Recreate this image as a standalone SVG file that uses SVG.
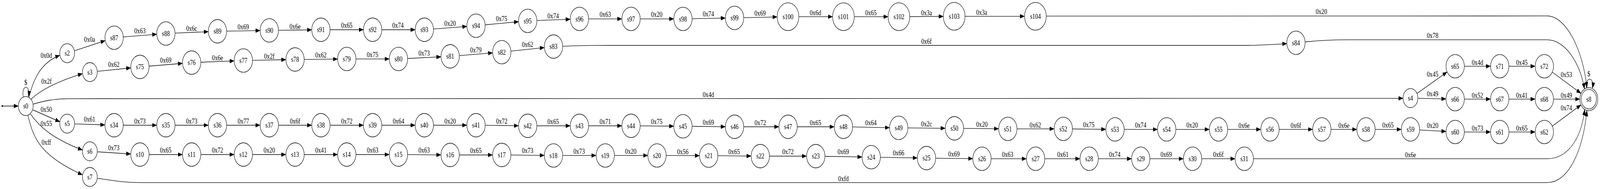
<svg xmlns="http://www.w3.org/2000/svg" width="5240" height="483" viewBox="0 0 5240 483" preserveAspectRatio="none">
<style>
svg{width:100vw;height:100vh}
.n{fill:none;stroke:#000;stroke-width:1.33}
.t{font-family:"Liberation Serif","Times New Roman",serif;font-size:18.67px;text-anchor:middle;fill:#000;opacity:0.999}
.e{fill:none;stroke:#000;stroke-width:1.33;marker-end:url(#ah)}
</style>
<defs>
<marker id="ah" markerUnits="userSpaceOnUse" markerWidth="15" markerHeight="11" viewBox="0 0 14 10" refX="13.5" refY="5" orient="auto"><path d="M0.5,0.3 L13.5,5 L0.5,9.7 z" fill="#000" stroke="#000" stroke-width="0.8"/></marker>
</defs>
<rect x="0" y="0" width="5240" height="483" fill="#fff"/>
<g id="connectors">
<g><path class="e" d="M7.3,271 L59.8,271"/></g>
<g><path class="e" d="M76,247 C70,215 100,215 93.3,246.5"/><text class="t" x="84.3" y="217">$</text></g>
<g><path class="e" d="M95,248.5 C110,200 135,160 195.5,141.5"/><text class="t" x="151.7" y="148">0x0d</text></g>
<g><path class="e" d="M102,253.3 C130,232 180,210 269.8,188.3"/><text class="t" x="152.3" y="214">0x2f</text></g>
<g><path class="e" d="M109,266 C140,259 175,252.3 220,252.3 L4594.8,251.3"/><text class="t" x="2320" y="248">0x4d</text></g>
<g><path class="e" d="M108.3,281 L195.8,311"/><text class="t" x="151.7" y="286.3">0x50</text></g>
<g><path class="e" d="M100,291.5 C130,325 175,355 269.8,383.3"/><text class="t" x="151.7" y="322.3">0x55</text></g>
<g><path class="e" d="M91.7,295 C110,360 140,400 269.8,446.7"/><text class="t" x="151.7" y="369.6">0xff</text></g>
<g><path class="e" d="M244.2,129.7 L344.2,103.9"/><text class="t" x="293.3" y="107">0x0a</text></g>
<g><path class="e" d="M404.1,94.4 L512.9,87.6"/><text class="t" x="458.3" y="85.3">0x63</text></g>
<g><path class="e" d="M573.8,84.7 L681.8,81"/><text class="t" x="627.7" y="78.6">0x6c</text></g>
<g><path class="e" d="M742.8,79.6 L851.5,78.1"/><text class="t" x="796.7" y="74.6">0x69</text></g>
<g><path class="e" d="M912.5,77.4 L1020.5,76.3"/><text class="t" x="966.3" y="74">0x6e</text></g>
<g><path class="e" d="M1081.5,76 L1189.8,76"/><text class="t" x="1135.7" y="71.3">0x65</text></g>
<g><path class="e" d="M1250.8,76 L1359.2,76"/><text class="t" x="1303.3" y="71.3">0x74</text></g>
<g><path class="e" d="M1420.1,74.1 L1528.6,67.6"/><text class="t" x="1474" y="65.6">0x20</text></g>
<g><path class="e" d="M1589.4,63.5 L1697.9,55.5"/><text class="t" x="1642.7" y="53.6">0x75</text></g>
<g><path class="e" d="M1758.8,52.4 L1867.2,49.2"/><text class="t" x="1811.7" y="46.6">0x74</text></g>
<g><path class="e" d="M1928.2,48.3 L2036.2,48.3"/><text class="t" x="1982.3" y="43">0x63</text></g>
<g><path class="e" d="M2097.2,48.3 L2206.2,48.3"/><text class="t" x="2150.7" y="43">0x20</text></g>
<g><path class="e" d="M2267.2,47.8 L2375.2,46.2"/><text class="t" x="2320" y="42.3">0x74</text></g>
<g><path class="e" d="M2436.2,45.2 L2544.7,43.3"/><text class="t" x="2489.3" y="39.6">0x69</text></g>
<g><path class="e" d="M2616.7,42.7 L2726.3,42.7"/><text class="t" x="2670.7" y="38.6">0x6d</text></g>
<g><path class="e" d="M2798.3,42.7 L2908,42.7"/><text class="t" x="2852.3" y="38.6">0x65</text></g>
<g><path class="e" d="M2980,42.5 L3089,41.9"/><text class="t" x="3034.3" y="38.6">0x3a</text></g>
<g><path class="e" d="M3161,41.7 L3355,41.7"/><text class="t" x="3215" y="38">0x3a</text></g>
<g><path class="e" d="M3427,41.2 L5066.7,40.7 C5130,40.7 5185,130 5197,224"/><text class="t" x="4327.7" y="35.6">0x20</text></g>
<g><path class="e" d="M319.2,182.3 L427.9,173.5"/><text class="t" x="372.7" y="171.3">0x62</text></g>
<g><path class="e" d="M488.7,169 L597.3,162"/><text class="t" x="542.7" y="159.6">0x69</text></g>
<g><path class="e" d="M658.2,159 L766.5,155.7"/><text class="t" x="712.3" y="153.6">0x6e</text></g>
<g><path class="e" d="M827.5,154.2 L935.8,152.5"/><text class="t" x="882" y="149.6">0x2f</text></g>
<g><path class="e" d="M996.8,151.8 L1105.2,150.9"/><text class="t" x="1051" y="147.3">0x62</text></g>
<g><path class="e" d="M1166.2,150.7 L1274.5,150.7"/><text class="t" x="1220" y="146.3">0x75</text></g>
<g><path class="e" d="M1335.5,149.5 L1443.8,145.2"/><text class="t" x="1389" y="142.3">0x73</text></g>
<g><path class="e" d="M1504.7,142.1 L1612.9,135.2"/><text class="t" x="1558.3" y="133.6">0x79</text></g>
<g><path class="e" d="M1673.7,130.7 L1782.3,121.6"/><text class="t" x="1727.7" y="119.6">0x62</text></g>
<g><path class="e" d="M1843.2,118.3 C1900,116.3 1950,116 2000,116 L4076,116 C4120,116 4170,113.5 4213.9,111.5"/><text class="t" x="3034.3" y="112.3">0x6f</text></g>
<g><path class="e" d="M4274.8,107 C4320,103.5 4360,101.7 4420,101.7 L5066.7,101.7 C5125,101.7 5175,160 5189,227"/><text class="t" x="4691.7" y="97.3">0x78</text></g>
<g><path class="e" d="M4641.2,238.6 L4739,184.1"/><text class="t" x="4691.7" y="195.6">0x45</text></g>
<g><path class="e" d="M4644.3,251.1 L4735.2,252.8"/><text class="t" x="4691.7" y="246.3">0x49</text></g>
<g><path class="e" d="M4796.2,169.3 L4881.2,169.3"/><text class="t" x="4838.7" y="165.6">0x4d</text></g>
<g><path class="e" d="M4942.2,169.3 L5027.2,169.3"/><text class="t" x="4984" y="165.6">0x45</text></g>
<g><path class="e" d="M5084.1,184.5 L5177.3,238.3"/><text class="t" x="5130" y="197.3">0x53</text></g>
<g><path class="e" d="M4796.2,253.3 L4881.2,253.3"/><text class="t" x="4838.7" y="249.6">0x52</text></g>
<g><path class="e" d="M4942.2,253.3 L5027.2,253.3"/><text class="t" x="4984" y="249.6">0x41</text></g>
<g><path class="e" d="M5088.2,253.3 L5173.3,253.3"/><text class="t" x="5130" y="250">0x49</text></g>
<g><path class="e" d="M5084.1,322.1 L5177.3,268.3"/><text class="t" x="5130" y="281.6">0x74</text></g>
<g><path class="e" d="M5196,224.5 C5190,196 5222,194 5215.5,225"/><text class="t" x="5203.3" y="194.6">$</text></g>
<g><path class="e" d="M245,316.6 L343.2,319.2"/><text class="t" x="293.3" y="311.3">0x61</text></g>
<g><path class="e" d="M404.2,320 L512.8,320"/><text class="t" x="458.3" y="315.6">0x73</text></g>
<g><path class="e" d="M573.8,320 L681.8,320"/><text class="t" x="627.7" y="315.6">0x73</text></g>
<g><path class="e" d="M742.8,320 L851.5,320"/><text class="t" x="797" y="315.6">0x77</text></g>
<g><path class="e" d="M912.5,320 L1020.5,320"/><text class="t" x="966.3" y="315.6">0x6f</text></g>
<g><path class="e" d="M1081.5,320 L1189.8,320"/><text class="t" x="1135.7" y="315.6">0x72</text></g>
<g><path class="e" d="M1250.8,320 L1359.2,320"/><text class="t" x="1305" y="315.6">0x64</text></g>
<g><path class="e" d="M1420.2,320 L1528.5,320"/><text class="t" x="1474.3" y="315.6">0x20</text></g>
<g><path class="e" d="M1589.5,320.1 L1697.8,321.4"/><text class="t" x="1643.3" y="315.6">0x72</text></g>
<g><path class="e" d="M1758.8,321.5 L1867.2,321.5"/><text class="t" x="1811.7" y="317.3">0x65</text></g>
<g><path class="e" d="M1928.2,321.5 L2036.2,321.5"/><text class="t" x="1982.3" y="317.3">0x71</text></g>
<g><path class="e" d="M2097.2,321.7 L2206.2,322.5"/><text class="t" x="2150.7" y="317.3">0x75</text></g>
<g><path class="e" d="M2267.2,322.9 L2375.2,323.8"/><text class="t" x="2320" y="318.6">0x69</text></g>
<g><path class="e" d="M2436.2,324 L2550.5,324"/><text class="t" x="2490" y="319.6">0x72</text></g>
<g><path class="e" d="M2611.5,324 L2731.8,324"/><text class="t" x="2670.7" y="319.6">0x65</text></g>
<g><path class="e" d="M2792.8,324.4 L2912.8,326.3"/><text class="t" x="2852.3" y="319.6">0x64</text></g>
<g><path class="e" d="M2973.8,326.9 L3095.2,327.8"/><text class="t" x="3034.3" y="323">0x2c</text></g>
<g><path class="e" d="M3156.2,328.2 L3270.2,329.1"/><text class="t" x="3215.7" y="323.6">0x20</text></g>
<g><path class="e" d="M3331.2,329.3 L3451.8,329.3"/><text class="t" x="3390.7" y="325.6">0x62</text></g>
<g><path class="e" d="M3512.8,329.5 L3621.2,330.5"/><text class="t" x="3565.7" y="325.3">0x75</text></g>
<g><path class="e" d="M3682.2,330.7 L3790.5,330.7"/><text class="t" x="3735.7" y="326.3">0x74</text></g>
<g><path class="e" d="M3851.5,330.7 L3960.2,330.7"/><text class="t" x="3904.3" y="326.3">0x20</text></g>
<g><path class="e" d="M4021.2,330.7 L4128.8,330.7"/><text class="t" x="4074.3" y="327">0x6e</text></g>
<g><path class="e" d="M4189.8,330.7 L4298.5,330.7"/><text class="t" x="4244" y="327">0x6f</text></g>
<g><path class="e" d="M4359.5,330.7 L4443.2,330.7"/><text class="t" x="4401.3" y="327">0x6e</text></g>
<g><path class="e" d="M4504.2,330.7 L4588.8,330.7"/><text class="t" x="4545.7" y="326.3">0x65</text></g>
<g><path class="e" d="M4649.8,332.1 L4735.2,335.9"/><text class="t" x="4691.7" y="327.3">0x20</text></g>
<g><path class="e" d="M4796.2,337.3 L4881.2,337.3"/><text class="t" x="4838.7" y="333.6">0x73</text></g>
<g><path class="e" d="M4942.2,337.3 L5027.2,337.3"/><text class="t" x="4984" y="333.6">0x65</text></g>
<g><path class="e" d="M319.3,388 L427.8,393.5"/><text class="t" x="372.7" y="383.6">0x73</text></g>
<g><path class="e" d="M488.8,395 L597.2,395"/><text class="t" x="542.7" y="390.3">0x65</text></g>
<g><path class="e" d="M658.2,395 L766.5,395"/><text class="t" x="712.3" y="390.3">0x72</text></g>
<g><path class="e" d="M827.5,395 L935.8,395"/><text class="t" x="882" y="390.3">0x20</text></g>
<g><path class="e" d="M996.8,395 L1105.2,395"/><text class="t" x="1051" y="390.3">0x41</text></g>
<g><path class="e" d="M1166.2,395 L1274.5,395"/><text class="t" x="1220.3" y="390.3">0x63</text></g>
<g><path class="e" d="M1335.5,395.2 L1443.8,395.8"/><text class="t" x="1389" y="390.3">0x63</text></g>
<g><path class="e" d="M1504.8,396 L1612.8,396"/><text class="t" x="1558.3" y="391.3">0x65</text></g>
<g><path class="e" d="M1673.8,396.2 L1782.2,397.1"/><text class="t" x="1727.7" y="391.3">0x73</text></g>
<g><path class="e" d="M1843.2,397.3 L1951.8,397.3"/><text class="t" x="1896.7" y="393">0x73</text></g>
<g><path class="e" d="M2012.8,397.3 L2121.2,397.3"/><text class="t" x="2065.7" y="393">0x20</text></g>
<g><path class="e" d="M2182.2,397.3 L2290.5,397.7"/><text class="t" x="2236" y="393.6">0x56</text></g>
<g><path class="e" d="M2351.5,397.9 L2459.5,398.8"/><text class="t" x="2404.3" y="393.6">0x65</text></g>
<g><path class="e" d="M2520.5,399 L2641.2,399"/><text class="t" x="2580.7" y="394">0x72</text></g>
<g><path class="e" d="M2702.2,399.5 L2822.8,401.2"/><text class="t" x="2761.7" y="394">0x69</text></g>
<g><path class="e" d="M2883.8,402.1 L3003.8,403.6"/><text class="t" x="2942.7" y="397">0x66</text></g>
<g><path class="e" d="M3064.8,404.3 L3185.5,405.4"/><text class="t" x="3124.3" y="399.6">0x69</text></g>
<g><path class="e" d="M3246.5,405.7 L3361.2,405.7"/><text class="t" x="3300" y="401.3">0x63</text></g>
<g><path class="e" d="M3422.2,405.7 L3536.5,405.7"/><text class="t" x="3481" y="401.3">0x61</text></g>
<g><path class="e" d="M3597.5,405.7 L3705.5,405.7"/><text class="t" x="3650.7" y="401.3">0x74</text></g>
<g><path class="e" d="M3766.5,405.7 L3875.2,405.7"/><text class="t" x="3819.3" y="401.3">0x69</text></g>
<g><path class="e" d="M3936.2,405.7 L4044.5,405.7"/><text class="t" x="3990" y="401.3">0x6f</text></g>
<g><path class="e" d="M4105.5,405.7 L5066.7,405.7 C5130,405.7 5178,360 5190,280"/><text class="t" x="4619.3" y="402">0x6e</text></g>
<g><path class="e" d="M319.3,455.7 C360,460 400,466.7 460,466.7 L5066.7,466.7 C5140,466.7 5185,380 5197,283"/><text class="t" x="2762.3" y="463">0xfd</text></g>
</g>
<g id="start"><circle cx="7.3" cy="271" r="2.3" fill="#000"/></g>
<g id="s0"><circle class="n" cx="84.3" cy="271" r="24.3"/><text class="t" x="84.3" y="277.3">s0</text></g>
<g id="s2"><circle class="n" cx="220" cy="136" r="24.3"/><text class="t" x="220" y="142.3">s2</text></g>
<g id="s3"><circle class="n" cx="294.3" cy="184.3" r="24.3"/><text class="t" x="294.3" y="190.6">s3</text></g>
<g id="s4"><circle class="n" cx="4619.3" cy="250.7" r="24.3"/><text class="t" x="4619.3" y="257">s4</text></g>
<g id="s5"><circle class="n" cx="220" cy="316" r="24.3"/><text class="t" x="220" y="322.3">s5</text></g>
<g id="s6"><circle class="n" cx="294.3" cy="386.7" r="24.3"/><text class="t" x="294.3" y="393">s6</text></g>
<g id="s7"><circle class="n" cx="294.3" cy="452.3" r="24.3"/><text class="t" x="294.3" y="458.6">s7</text></g>
<g id="s8"><circle class="n" cx="5203.3" cy="253.3" r="29.5"/><circle class="n" cx="5203.3" cy="253.3" r="25"/><text class="t" x="5203.3" y="259.6">s8</text></g>
<g id="s87"><circle class="n" cx="373.7" cy="96.3" r="30"/><text class="t" x="373.7" y="102.6">s87</text></g>
<g id="s88"><circle class="n" cx="543.3" cy="85.7" r="30"/><text class="t" x="543.3" y="92">s88</text></g>
<g id="s89"><circle class="n" cx="712.3" cy="80" r="30"/><text class="t" x="712.3" y="86.3">s89</text></g>
<g id="s90"><circle class="n" cx="882" cy="77.7" r="30"/><text class="t" x="882" y="84">s90</text></g>
<g id="s91"><circle class="n" cx="1051" cy="76" r="30"/><text class="t" x="1051" y="82.3">s91</text></g>
<g id="s92"><circle class="n" cx="1220.3" cy="76" r="30"/><text class="t" x="1220.3" y="82.3">s92</text></g>
<g id="s93"><circle class="n" cx="1389.7" cy="76" r="30"/><text class="t" x="1389.7" y="82.3">s93</text></g>
<g id="s94"><circle class="n" cx="1559" cy="65.7" r="30"/><text class="t" x="1559" y="72">s94</text></g>
<g id="s95"><circle class="n" cx="1728.3" cy="53.3" r="30"/><text class="t" x="1728.3" y="59.6">s95</text></g>
<g id="s96"><circle class="n" cx="1897.7" cy="48.3" r="30"/><text class="t" x="1897.7" y="54.6">s96</text></g>
<g id="s97"><circle class="n" cx="2066.7" cy="48.3" r="30"/><text class="t" x="2066.7" y="54.6">s97</text></g>
<g id="s98"><circle class="n" cx="2236.7" cy="48.3" r="30"/><text class="t" x="2236.7" y="54.6">s98</text></g>
<g id="s99"><circle class="n" cx="2405.7" cy="45.7" r="30"/><text class="t" x="2405.7" y="52">s99</text></g>
<g id="s100"><circle class="n" cx="2580.7" cy="42.7" r="35.5"/><text class="t" x="2580.7" y="49">s100</text></g>
<g id="s101"><circle class="n" cx="2762.3" cy="42.7" r="35.5"/><text class="t" x="2762.3" y="49">s101</text></g>
<g id="s102"><circle class="n" cx="2944" cy="42.7" r="35.5"/><text class="t" x="2944" y="49">s102</text></g>
<g id="s103"><circle class="n" cx="3125" cy="41.7" r="35.5"/><text class="t" x="3125" y="48">s103</text></g>
<g id="s104"><circle class="n" cx="3391" cy="41.7" r="35.5"/><text class="t" x="3391" y="48">s104</text></g>
<g id="s75"><circle class="n" cx="458.3" cy="171" r="30"/><text class="t" x="458.3" y="177.3">s75</text></g>
<g id="s76"><circle class="n" cx="627.7" cy="160" r="30"/><text class="t" x="627.7" y="166.3">s76</text></g>
<g id="s77"><circle class="n" cx="797" cy="154.7" r="30"/><text class="t" x="797" y="161">s77</text></g>
<g id="s78"><circle class="n" cx="966.3" cy="152" r="30"/><text class="t" x="966.3" y="158.3">s78</text></g>
<g id="s79"><circle class="n" cx="1135.7" cy="150.7" r="30"/><text class="t" x="1135.7" y="157">s79</text></g>
<g id="s80"><circle class="n" cx="1305" cy="150.7" r="30"/><text class="t" x="1305" y="157">s80</text></g>
<g id="s81"><circle class="n" cx="1474.3" cy="144" r="30"/><text class="t" x="1474.3" y="150.3">s81</text></g>
<g id="s82"><circle class="n" cx="1643.3" cy="133.3" r="30"/><text class="t" x="1643.3" y="139.6">s82</text></g>
<g id="s83"><circle class="n" cx="1812.7" cy="119" r="30"/><text class="t" x="1812.7" y="125.3">s83</text></g>
<g id="s84"><circle class="n" cx="4244.3" cy="109.3" r="30"/><text class="t" x="4244.3" y="115.6">s84</text></g>
<g id="s65"><circle class="n" cx="4765.7" cy="169.3" r="30"/><text class="t" x="4765.7" y="175.6">s65</text></g>
<g id="s66"><circle class="n" cx="4765.7" cy="253.3" r="30"/><text class="t" x="4765.7" y="259.6">s66</text></g>
<g id="s71"><circle class="n" cx="4911.7" cy="169.3" r="30"/><text class="t" x="4911.7" y="175.6">s71</text></g>
<g id="s72"><circle class="n" cx="5057.7" cy="169.3" r="30"/><text class="t" x="5057.7" y="175.6">s72</text></g>
<g id="s67"><circle class="n" cx="4911.7" cy="253.3" r="30"/><text class="t" x="4911.7" y="259.6">s67</text></g>
<g id="s68"><circle class="n" cx="5057.7" cy="253.3" r="30"/><text class="t" x="5057.7" y="259.6">s68</text></g>
<g id="s34"><circle class="n" cx="373.7" cy="320" r="30"/><text class="t" x="373.7" y="326.3">s34</text></g>
<g id="s35"><circle class="n" cx="543.3" cy="320" r="30"/><text class="t" x="543.3" y="326.3">s35</text></g>
<g id="s36"><circle class="n" cx="712.3" cy="320" r="30"/><text class="t" x="712.3" y="326.3">s36</text></g>
<g id="s37"><circle class="n" cx="882" cy="320" r="30"/><text class="t" x="882" y="326.3">s37</text></g>
<g id="s38"><circle class="n" cx="1051" cy="320" r="30"/><text class="t" x="1051" y="326.3">s38</text></g>
<g id="s39"><circle class="n" cx="1220.3" cy="320" r="30"/><text class="t" x="1220.3" y="326.3">s39</text></g>
<g id="s40"><circle class="n" cx="1389.7" cy="320" r="30"/><text class="t" x="1389.7" y="326.3">s40</text></g>
<g id="s41"><circle class="n" cx="1559" cy="320" r="30"/><text class="t" x="1559" y="326.3">s41</text></g>
<g id="s42"><circle class="n" cx="1728.3" cy="321.5" r="30"/><text class="t" x="1728.3" y="327.8">s42</text></g>
<g id="s43"><circle class="n" cx="1897.7" cy="321.5" r="30"/><text class="t" x="1897.7" y="327.8">s43</text></g>
<g id="s44"><circle class="n" cx="2066.7" cy="321.5" r="30"/><text class="t" x="2066.7" y="327.8">s44</text></g>
<g id="s45"><circle class="n" cx="2236.7" cy="322.7" r="30"/><text class="t" x="2236.7" y="329">s45</text></g>
<g id="s46"><circle class="n" cx="2405.7" cy="324" r="30"/><text class="t" x="2405.7" y="330.3">s46</text></g>
<g id="s47"><circle class="n" cx="2581" cy="324" r="30"/><text class="t" x="2581" y="330.3">s47</text></g>
<g id="s48"><circle class="n" cx="2762.3" cy="324" r="30"/><text class="t" x="2762.3" y="330.3">s48</text></g>
<g id="s49"><circle class="n" cx="2943.3" cy="326.7" r="30"/><text class="t" x="2943.3" y="333">s49</text></g>
<g id="s50"><circle class="n" cx="3125.7" cy="328" r="30"/><text class="t" x="3125.7" y="334.3">s50</text></g>
<g id="s51"><circle class="n" cx="3300.7" cy="329.3" r="30"/><text class="t" x="3300.7" y="335.6">s51</text></g>
<g id="s52"><circle class="n" cx="3482.3" cy="329.3" r="30"/><text class="t" x="3482.3" y="335.6">s52</text></g>
<g id="s53"><circle class="n" cx="3651.7" cy="330.7" r="30"/><text class="t" x="3651.7" y="337">s53</text></g>
<g id="s54"><circle class="n" cx="3821" cy="330.7" r="30"/><text class="t" x="3821" y="337">s54</text></g>
<g id="s55"><circle class="n" cx="3990.7" cy="330.7" r="30"/><text class="t" x="3990.7" y="337">s55</text></g>
<g id="s56"><circle class="n" cx="4159.3" cy="330.7" r="30"/><text class="t" x="4159.3" y="337">s56</text></g>
<g id="s57"><circle class="n" cx="4329" cy="330.7" r="30"/><text class="t" x="4329" y="337">s57</text></g>
<g id="s58"><circle class="n" cx="4473.7" cy="330.7" r="30"/><text class="t" x="4473.7" y="337">s58</text></g>
<g id="s59"><circle class="n" cx="4619.3" cy="330.7" r="30"/><text class="t" x="4619.3" y="337">s59</text></g>
<g id="s60"><circle class="n" cx="4765.7" cy="337.3" r="30"/><text class="t" x="4765.7" y="343.6">s60</text></g>
<g id="s61"><circle class="n" cx="4911.7" cy="337.3" r="30"/><text class="t" x="4911.7" y="343.6">s61</text></g>
<g id="s62"><circle class="n" cx="5057.7" cy="337.3" r="30"/><text class="t" x="5057.7" y="343.6">s62</text></g>
<g id="s10"><circle class="n" cx="458.3" cy="395" r="30"/><text class="t" x="458.3" y="401.3">s10</text></g>
<g id="s11"><circle class="n" cx="627.7" cy="395" r="30"/><text class="t" x="627.7" y="401.3">s11</text></g>
<g id="s12"><circle class="n" cx="797" cy="395" r="30"/><text class="t" x="797" y="401.3">s12</text></g>
<g id="s13"><circle class="n" cx="966.3" cy="395" r="30"/><text class="t" x="966.3" y="401.3">s13</text></g>
<g id="s14"><circle class="n" cx="1135.7" cy="395" r="30"/><text class="t" x="1135.7" y="401.3">s14</text></g>
<g id="s15"><circle class="n" cx="1305" cy="395" r="30"/><text class="t" x="1305" y="401.3">s15</text></g>
<g id="s16"><circle class="n" cx="1474.3" cy="396" r="30"/><text class="t" x="1474.3" y="402.3">s16</text></g>
<g id="s17"><circle class="n" cx="1643.3" cy="396" r="30"/><text class="t" x="1643.3" y="402.3">s17</text></g>
<g id="s18"><circle class="n" cx="1812.7" cy="397.3" r="30"/><text class="t" x="1812.7" y="403.6">s18</text></g>
<g id="s19"><circle class="n" cx="1982.3" cy="397.3" r="30"/><text class="t" x="1982.3" y="403.6">s19</text></g>
<g id="s20"><circle class="n" cx="2151.7" cy="397.3" r="30"/><text class="t" x="2151.7" y="403.6">s20</text></g>
<g id="s21"><circle class="n" cx="2321" cy="397.7" r="30"/><text class="t" x="2321" y="404">s21</text></g>
<g id="s22"><circle class="n" cx="2490" cy="399" r="30"/><text class="t" x="2490" y="405.3">s22</text></g>
<g id="s23"><circle class="n" cx="2671.7" cy="399" r="30"/><text class="t" x="2671.7" y="405.3">s23</text></g>
<g id="s24"><circle class="n" cx="2853.3" cy="401.7" r="30"/><text class="t" x="2853.3" y="408">s24</text></g>
<g id="s25"><circle class="n" cx="3034.3" cy="404" r="30"/><text class="t" x="3034.3" y="410.3">s25</text></g>
<g id="s26"><circle class="n" cx="3216" cy="405.7" r="30"/><text class="t" x="3216" y="412">s26</text></g>
<g id="s27"><circle class="n" cx="3391.7" cy="405.7" r="30"/><text class="t" x="3391.7" y="412">s27</text></g>
<g id="s28"><circle class="n" cx="3567" cy="405.7" r="30"/><text class="t" x="3567" y="412">s28</text></g>
<g id="s29"><circle class="n" cx="3736" cy="405.7" r="30"/><text class="t" x="3736" y="412">s29</text></g>
<g id="s30"><circle class="n" cx="3905.7" cy="405.7" r="30"/><text class="t" x="3905.7" y="412">s30</text></g>
<g id="s31"><circle class="n" cx="4075" cy="405.7" r="30"/><text class="t" x="4075" y="412">s31</text></g>
</svg>
